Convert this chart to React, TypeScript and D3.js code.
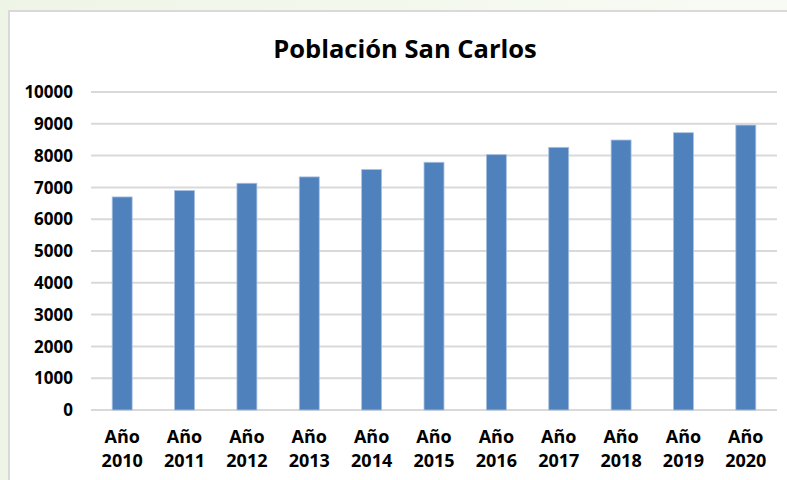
import React from 'react';
import * as d3 from 'd3';

const years = ['2010', '2011', '2012', '2013', '2014', '2015', '2016', '2017', '2018', '2019', '2020'];
const poblacion = [6700, 6900, 7130, 7330, 7560, 7790, 8030, 8260, 8490, 8720, 8960];
const yTicks = [0, 1000, 2000, 3000, 4000, 5000, 6000, 7000, 8000, 9000, 10000];

const width = 787;
const height = 480;
const plot = { left: 91, right: 777, top: 92, bottom: 410 };

const App = () => {
  const x = d3.scaleBand()
    .domain(years)
    .range([plot.left, plot.right])
    .paddingInner(0.68)
    .paddingOuter(0.34);
  const y = d3.scaleLinear().domain([0, 10000]).range([plot.bottom, plot.top]);

  const font = "'Open Sans', 'Liberation Sans', sans-serif";

  return (
    <svg width={width} height={height} style={{ position: 'absolute', left: 0, top: 0 }}>
      <defs>
        <linearGradient id="bg" x1="0" y1="0" x2="1" y2="0">
          <stop offset="0" stopColor="#eef5e6" />
          <stop offset="1" stopColor="#f8fbf4" />
        </linearGradient>
      </defs>
      <rect x={0} y={0} width={width} height={height} fill="url(#bg)" />
      {/* chart frame */}
      <rect x={9} y={11} width={width} height={height} fill="#fff" stroke="#d9d9d9" strokeWidth={2} />

      <text x={405} y={58} textAnchor="middle" fontFamily={font} fontWeight="bold" fontSize={25.5} fill="#000">
        Población San Carlos
      </text>

      {/* gridlines */}
      {yTicks.map(t => (
        <line key={t} x1={plot.left} x2={plot.right} y1={y(t)} y2={y(t)}
          stroke="#d9d9d9" strokeWidth={2} />
      ))}

      {/* y tick labels */}
      {yTicks.map(t => (
        <text key={'l' + t} x={73} y={y(t)} dy="0.36em" textAnchor="end"
          fontFamily={font} fontWeight="bold" fontSize={17} fill="#000">
          {t}
        </text>
      ))}

      {/* bars */}
      {poblacion.map((v, i) => (
        <rect key={years[i]} x={x(years[i])} y={y(v)} width={x.bandwidth()} height={y(0) - y(v)}
          fill="#4f81bd" stroke="#a9c0e0" strokeWidth={0.8} />
      ))}

      {/* x labels */}
      {years.map(yr => (
        <text key={'x' + yr} x={(x(yr) as number) + x.bandwidth() / 2} textAnchor="middle"
          fontFamily={font} fontWeight="bold" fontSize={18} fill="#000">
          <tspan x={(x(yr) as number) + x.bandwidth() / 2} y={443}>Año</tspan>
          <tspan x={(x(yr) as number) + x.bandwidth() / 2} y={467}>{yr}</tspan>
        </text>
      ))}
    </svg>
  );
};

export default App;
